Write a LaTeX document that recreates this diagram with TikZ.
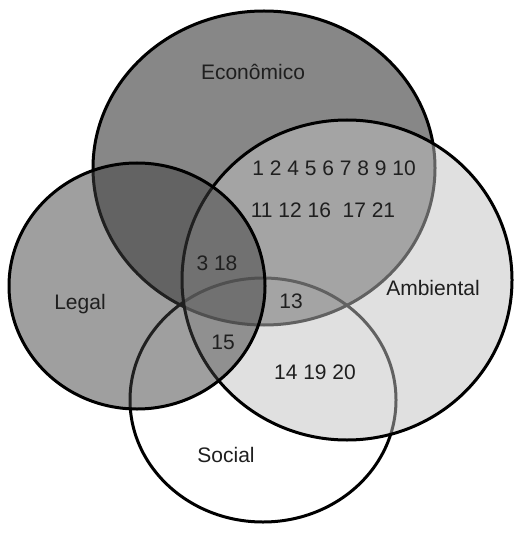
\documentclass[tikz,border=0pt]{standalone}
\usepackage{fontspec}
\setmainfont{Liberation Sans}
\begin{document}
\begin{tikzpicture}[x=1pt,y=-1pt,
  setline/.style={line width=3pt,draw=black},
  lbl/.style={font=\fontsize{21}{24}\selectfont,text=black!88,inner sep=0pt}]
\useasboundingbox (0,0) rectangle (515,534);
% Económico: opaque fill at the bottom of the stack
\fill[fill=black!47] (264,168) ellipse [x radius=171,y radius=157];
\draw[setline] (264,168) ellipse [x radius=171,y radius=157];
% Social: outline only
\draw[setline] (263,400) ellipse [x radius=133,y radius=122];
% Ambiental: half-transparent light fill
\fill[fill=black!24,fill opacity=0.5] (347,280) ellipse [x radius=165,y radius=160];
\draw[setline] (347,280) ellipse [x radius=165,y radius=160];
% Legal: half-transparent darker fill, on top
\fill[fill=black!75,fill opacity=0.5] (137,286) ellipse [x radius=128,y radius=123];
\draw[setline] (137,286) ellipse [x radius=128,y radius=123];
% set names
\node[lbl] (eco) at (253,72) {Econômico};
\node[lbl] (leg) at (80,304) {Legal};
\node[lbl] (amb) at (433,288) {Ambiental};
\node[lbl] (soc) at (226,455) {Social};
% items
\node[lbl] (r1) at (334,168) {1 2 4 5 6 7 8 9 10};
\node[lbl] (r2) at (323,210) {11 12 16\ \ 17 21};
\node[lbl] (n318) at (217,263) {3 18};
\node[lbl] (n13) at (291,301) {13};
\node[lbl] (n15) at (223,342) {15};
\node[lbl] (n141920) at (315,372) {14 19 20};
\end{tikzpicture}
\end{document}
